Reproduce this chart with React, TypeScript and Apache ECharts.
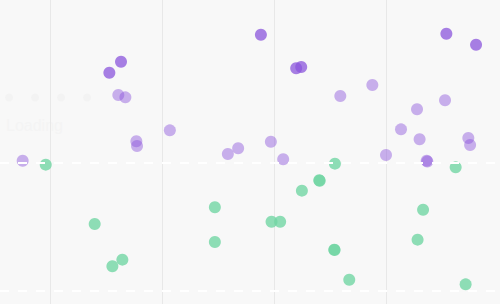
import React, { useEffect, useRef } from "react";
import * as echarts from "echarts";

// x in grid units (vertical grid lines at 0,1,2,3), y in units (dashed lines at 0 and 1)
const highX = [1.883, 0.634, 0.53, 2.198, 2.243, 3.539, 3.804];
const highY = [2.002, 1.791, 1.705, 1.74, 1.75, 2.01, 1.924];

const midX = [0.61, 0.673, -0.244, 0.771, 0.777, 1.07, 1.588, 1.68, 1.972, 2.082, 2.592, 2.878, 3.0, 3.134, 3.277, 3.3, 3.527, 3.363, 3.369, 3.735, 3.751];
const midY = [1.531, 1.513, 1.018, 1.17, 1.133, 1.255, 1.07, 1.115, 1.166, 1.029, 1.523, 1.609, 1.0625, 1.263, 1.42, 1.185, 1.49, 1.018, 1.012, 1.195, 1.141];

const lowX = [-0.038, 0.399, 0.557, 0.646, 1.472, 1.472, 1.978, 2.055, 2.249, 2.404, 2.408, 2.544, 2.538, 2.541, 2.672, 3.331, 3.282, 3.622, 3.711];
const lowY = [0.987, 0.523, 0.193, 0.245, 0.654, 0.383, 0.541, 0.541, 0.784, 0.865, 0.861, 0.995, 0.323, 0.32, 0.088, 0.635, 0.401, 0.966, 0.052];

const refLines = [0, 1];
const loadingText = "Loading";

const zip = (xs: number[], ys: number[]) => xs.map((x, i) => [x, ys[i]]);

const hiddenAxis = {
  axisLine: { show: false },
  axisTick: { show: false },
  axisLabel: { show: false },
};

export default function App() {
  const ref = useRef<HTMLDivElement>(null);
  useEffect(() => {
    if (!ref.current) return;
    const chart = echarts.init(ref.current, undefined, { renderer: "svg" });
    chart.setOption({
      animation: false,
      backgroundColor: "#f8f8f8",
      grid: [
        { left: 50, right: 2, top: 0, bottom: 0 },
        { left: 0, right: 0, top: 0, bottom: 0 },
      ],
      xAxis: [
        {
          type: "value",
          gridIndex: 0,
          min: 0,
          max: 4,
          interval: 1,
          ...hiddenAxis,
          splitLine: {
            show: true,
            showMinLine: true,
            showMaxLine: false,
            lineStyle: { color: "#e8e8e8", width: 1 },
          },
        },
        {
          type: "value",
          gridIndex: 1,
          min: -50 / 112,
          max: 450 / 112,
          ...hiddenAxis,
          splitLine: { show: false },
        },
      ],
      yAxis: [
        {
          type: "value",
          gridIndex: 0,
          min: 0,
          max: 1,
          ...hiddenAxis,
          splitLine: { show: false },
        },
        {
          type: "value",
          gridIndex: 1,
          min: -13 / 128,
          max: 291 / 128,
          ...hiddenAxis,
          splitLine: { show: false },
        },
      ],
      graphic: [
        ...[9, 35, 61, 87].map((cx) => ({
          type: "circle",
          shape: { cx, cy: 97.5, r: 4 },
          style: { fill: "#f3f3f3" },
          silent: true,
        })),
        {
          type: "text",
          x: 6,
          y: 117,
          style: {
            text: loadingText,
            fill: "#f4f4f4",
            font: "16px sans-serif",
          },
          silent: true,
        },
      ],
      series: [
        {
          name: "high",
          type: "scatter",
          xAxisIndex: 1,
          yAxisIndex: 1,
          symbolSize: 12,
          clip: false,
          data: zip(highX, highY),
          itemStyle: { color: "#8b55dc", opacity: 0.75 },
        },
        {
          name: "mid",
          type: "scatter",
          xAxisIndex: 1,
          yAxisIndex: 1,
          symbolSize: 12,
          clip: false,
          data: zip(midX, midY),
          itemStyle: { color: "#8b55dc", opacity: 0.45 },
        },
        {
          name: "low",
          type: "scatter",
          xAxisIndex: 1,
          yAxisIndex: 1,
          symbolSize: 12,
          clip: false,
          data: zip(lowX, lowY),
          itemStyle: { color: "#72d6a4", opacity: 0.8 },
          markLine: {
            silent: true,
            symbol: "none",
            label: { show: false },
            lineStyle: { color: "#ffffff", type: [9, 9], width: 2, opacity: 1 },
            data: refLines.map((v) => ({ yAxis: v })),
          },
        },
      ],
    });
    return () => chart.dispose();
  }, []);
  return (
    <div
      ref={ref}
      style={{ position: "fixed", left: 0, top: 0, width: 500, height: 304 }}
    />
  );
}
